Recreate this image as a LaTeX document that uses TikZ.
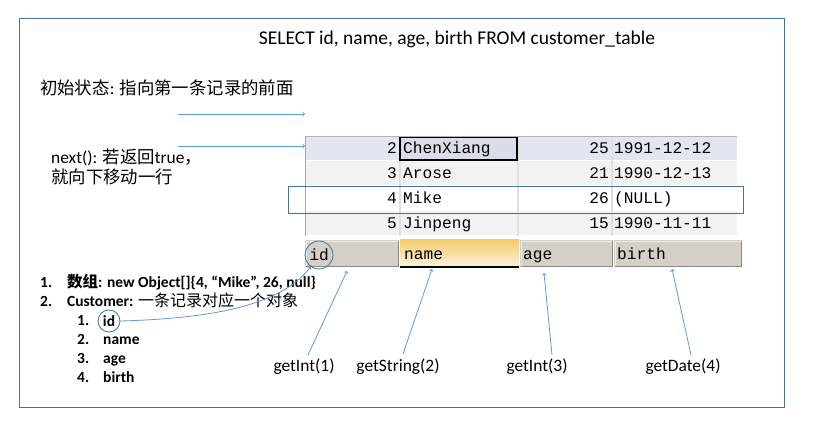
\documentclass[tikz,border=0pt]{standalone}
\usepackage{fontspec}
\setmainfont{Carlito}
\setmonofont{Liberation Mono}
\newfontfamily\cjk{Noto Sans CJK SC}
\usepackage{xcolor}
\usetikzlibrary{shapes.geometric, arrows}
\usetikzlibrary{calc,positioning}

\definecolor{frameblue}{HTML}{41719C}
\definecolor{arrowblue}{HTML}{5B9BD5}
\definecolor{rowblue}{HTML}{E3E6F0}
\definecolor{rowgray}{HTML}{F2F2F2}
\definecolor{selcell}{HTML}{DCDCE8}
\definecolor{headgray}{HTML}{D4D0C8}
\definecolor{headtop}{HTML}{F5CB6E}
\definecolor{headbot}{HTML}{FCF4DC}

\tikzset{
  sqltext/.style={font=\fontsize{19.5}{23}\selectfont},
  bigtext/.style={font=\fontsize{17.4}{20}\selectfont, inner sep=0pt},
  itemtext/.style={font=\fontsize{15.5}{18}\selectfont\bfseries, inner sep=0pt, anchor=base west},
  mono/.style={font=\ttfamily\fontsize{16.2}{19}\selectfont, inner sep=0pt},
  pointer/.style={->, arrowblue, line width=0.8pt},
}

\begin{document}
\begin{tikzpicture}[x=1pt,y=-1pt]
    \useasboundingbox (0,0) rectangle (817,430);

    % Rahmen
    \draw[frameblue, line width=1pt] (19,19) rectangle (784,407);

    % SQL
    \node[sqltext] (sql) at (457,39) {SELECT id, name, age, birth FROM customer\_table};

    % Zeilen
    \foreach \r/\nm/\ag/\bd/\fc [count=\i from 0] in
        {2/ChenXiang/25/1991-12-12/rowblue, 3/Arose/21/1990-12-13/rowgray,
         4/Mike/26/(NULL)/white, 5/Jinpeng/15/1990-11-11/rowgray} {
        \fill[\fc] (305,136+25*\i) rectangle (737,161+25*\i);
        \draw[white, line width=1.5pt] (305,161+25*\i) -- (737,161+25*\i);
        \foreach \cx in {400,518,612}
            \draw[gray!25, line width=1.5pt] (\cx,136+25*\i) -- (\cx,161+25*\i);
    }
    \draw[black, line width=2pt, fill=selcell] (400,137) rectangle (517,160);
    \foreach \r/\nm/\ag/\bd [count=\i from 0] in
        {2/ChenXiang/25/1991-12-12, 3/Arose/21/1990-12-13,
         4/Mike/26/(NULL), 5/Jinpeng/15/1990-11-11} {
        \node[mono, anchor=base east] (nr\i) at (397,154+25*\i) {\r};
        \node[mono, anchor=base west] (nm\i) at (403,154+25*\i) {\nm};
        \node[mono, anchor=base east] (ag\i) at (609,154+25*\i) {\ag};
        \node[mono, anchor=base west] (bd\i) at (614,154+25*\i) {\bd};
    }
    \draw[gray!60] (305,136) -- (737,136);
    \draw[gray!70] (305,136) -- (305,236);

    % Kopfzeile
    \foreach \a/\b in {305/399, 520/613, 614/742} {
        \fill[headgray] (\a,240) rectangle (\b,267);
        \draw[white!60!headgray] (\a+1,266) -- (\a+1,241) -- (\b-1,241);
        \draw[black!35!headgray] (\a+1,266) -- (\b-1,266) -- (\b-1,241);
    }
    \shade[top color=headtop, bottom color=headbot] (400,240) rectangle (519,267);
    \draw[black, line width=1.5pt] (400,267) -- (519,267);
    \node[mono, circle, draw=frameblue, line width=0.8pt, minimum size=28pt] (hid) at (319,255) {id};
    \node[mono, anchor=base west] (hname) at (404,259.5) {name};
    \node[mono, anchor=base west] (hage) at (523,259.5) {age};
    \node[mono, anchor=base west] (hbirth) at (617,259.5) {birth};

    % Markierung
    \draw[frameblue, line width=0.8pt] (288,186) rectangle (743,213);

    % Texte links
    \node[bigtext, anchor=west] (init) at (40,88) {{\cjk 初始状态}: {\cjk 指向第一条记录的前面}};
    \node[bigtext, anchor=west, align=left] (nxt) at (51,167) {next(): {\cjk 若返回}true{\cjk ，}\\{\cjk 就向下移动一行}};

    % Zeiger
    \coordinate (p0) at (178,114);
    \coordinate (p1) at (305,114);
    \coordinate (q0) at (178,146);
    \coordinate (q1) at (305,146);
    \draw[pointer] (p0) -- (p1);
    \draw[pointer] (q0) -- (q1);

    % Liste
    \node[itemtext] (l1) at (40,288) {1.};
    \node[itemtext] (t1) at (67,288) {{\cjk\bfseries 数组}: new Object[]\{4, “Mike”, 26, null\}};
    \node[itemtext] (l2) at (40,307) {2.};
    \node[itemtext] (t2) at (67,307) {Customer: {\cjk\mdseries\fontsize{16}{19}\selectfont 一条记录对应一个对象}};
    \node[itemtext] (s1) at (77,326) {1.};
    \node[itemtext, anchor=center, circle, draw=frameblue, line width=0.8pt, minimum size=22pt] (cid) at (109,321) {id};
    \foreach \w [count=\k from 2] in {name, age, birth} {
        \node[itemtext] (s\k) at (77,326+18.7*\k-18.7) {\k.};
        \node[itemtext] (w\k) at (103,326+18.7*\k-18.7) {\w};
    }
    \draw[pointer] (cid.east) .. controls (230,318) and (285,300) .. (hid.235);

    % getXxx
    \node[bigtext] (g1) at (304,367) {getInt(1)};
    \node[bigtext] (g2) at (398,367) {getString(2)};
    \node[bigtext] (g3) at (537,367) {getInt(3)};
    \node[bigtext] (g4) at (683,367) {getDate(4)};
    \coordinate (e1) at (347,271);
    \coordinate (e2) at (432,269);
    \coordinate (e3) at (544,273);
    \coordinate (e4) at (672,269);
    \draw[pointer] ($(g1.north)+(4,-4)$) -- (e1);
    \draw[pointer] ($(g2.north)+(5,-5)$) -- (e2);
    \draw[pointer] ($(g3.north)+(15,-4)$) -- (e3);
    \draw[pointer] ($(g4.north)+(8,-4)$) -- (e4);

\end{tikzpicture}
\end{document}
